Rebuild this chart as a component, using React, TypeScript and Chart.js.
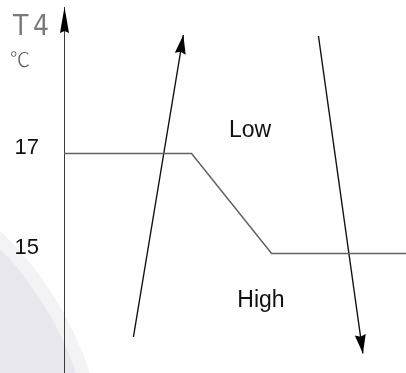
import React, { useEffect, useRef } from 'react';
import { Chart, registerables } from 'chart.js';

Chart.register(...registerables);

// ---- data ----
const yTickValues = [15, 17];
const setpointX = [0, 37.3, 60.7, 100];
const setpointY = [17, 17, 15, 15];
const riseArrowX = [20.3, 34.9];
const riseArrowY = [13.33, 19.37];
const fallArrowX = [74.4, 87.4];
const fallArrowY = [19.35, 13.0];
const regionLabels = ['Low', 'High'];
const regionX = [54.4, 57.6];
const regionY = [17.33, 13.93];
const axisTitleMain = ['T', '4'];
const axisTitleUnit = '℃';

const toPoints = (xs: number[], ys: number[]) => xs.map((x, i) => ({ x, y: ys[i] }));

function arrowHead(ctx: CanvasRenderingContext2D, fx: number, fy: number, tx: number, ty: number, len: number, half: number) {
  const dx = tx - fx;
  const dy = ty - fy;
  const d = Math.hypot(dx, dy) || 1;
  const ux = dx / d;
  const uy = dy / d;
  const bx = tx - ux * len;
  const by = ty - uy * len;
  const px = -uy;
  const py = ux;
  ctx.beginPath();
  ctx.moveTo(tx, ty);
  ctx.lineTo(bx + px * half, by + py * half);
  ctx.lineTo(bx + ux * 2, by + uy * 2);
  ctx.lineTo(bx - px * half, by - py * half);
  ctx.closePath();
  ctx.fill();
}

const schematicPlugin = {
  id: 'schematic',
  beforeDraw(chart: any) {
    const { ctx, width, height } = chart;
    ctx.save();
    ctx.fillStyle = '#ffffff';
    ctx.fillRect(0, 0, width, height);
    // faint watermark disc in the lower-left corner
    ctx.beginPath();
    ctx.arc(-240, 481, 347, 0, Math.PI * 2);
    ctx.fillStyle = '#f3f3f5';
    ctx.fill();
    ctx.beginPath();
    ctx.arc(-240, 481, 334, 0, Math.PI * 2);
    ctx.fillStyle = '#e8e7ee';
    ctx.fill();
    ctx.restore();
  },
  afterDatasetsDraw(chart: any) {
    const { ctx, chartArea, scales } = chart;
    const xs = scales.x;
    const ys = scales.y;
    ctx.save();
    ctx.fillStyle = '#000';
    // y-axis arrow head
    const ax = Math.round(chartArea.left) + 0.5;
    arrowHead(ctx, ax, chartArea.top + 40, ax, chartArea.top, 26, 4.5);
    // data arrows
    const arrows = [
      [riseArrowX, riseArrowY],
      [fallArrowX, fallArrowY],
    ];
    arrows.forEach(([ax2, ay2]) => {
      const n = ax2.length;
      const fx = xs.getPixelForValue(ax2[n - 2]);
      const fy = ys.getPixelForValue(ay2[n - 2]);
      const tx = xs.getPixelForValue(ax2[n - 1]);
      const ty = ys.getPixelForValue(ay2[n - 1]);
      arrowHead(ctx, fx, fy, tx, ty, 19, 5.5);
    });
    // region labels
    ctx.fillStyle = '#111';
    ctx.font = '23px "Liberation Sans", Arial, sans-serif';
    ctx.textAlign = 'center';
    ctx.textBaseline = 'alphabetic';
    regionLabels.forEach((t, i) => {
      ctx.fillText(t, xs.getPixelForValue(regionX[i]), ys.getPixelForValue(regionY[i]));
    });
    // axis title
    ctx.fillStyle = '#7a7a7a';
    ctx.textAlign = 'left';
    ctx.font = '28px "Liberation Sans Narrow", "DejaVu Sans Condensed", sans-serif';
    ctx.fillText(axisTitleMain[0], chartArea.left - 51, 35);
    ctx.fillText(axisTitleMain[1], chartArea.left - 31, 35);
    ctx.fillStyle = '#555';
    ctx.font = '300 20px "Noto Sans CJK SC", "DejaVu Sans", sans-serif';
    ctx.fillText(axisTitleUnit, chartArea.left - 54, 67);
    ctx.restore();
  },
};

export default function App() {
  const ref = useRef<HTMLCanvasElement | null>(null);
  useEffect(() => {
    if (!ref.current) return;
    const chart = new Chart(ref.current, {
      type: 'line',
      data: {
        datasets: [
          {
            data: toPoints(setpointX, setpointY),
            borderColor: '#626262',
            borderWidth: 1.5,
            pointRadius: 0,
            tension: 0,
            clip: false as any,
          },
          {
            data: toPoints(riseArrowX, riseArrowY),
            borderColor: '#111',
            borderWidth: 1.4,
            pointRadius: 0,
            tension: 0,
            clip: false as any,
          },
          {
            data: toPoints(fallArrowX, fallArrowY),
            borderColor: '#111',
            borderWidth: 1.4,
            pointRadius: 0,
            tension: 0,
            clip: false as any,
          },
        ],
      },
      options: {
        animation: false,
        responsive: false,
        events: [],
        layout: { padding: { top: 7, left: 0, right: 0, bottom: 0 } },
        plugins: { legend: { display: false }, tooltip: { enabled: false } },
        scales: {
          x: {
            type: 'linear',
            min: 0,
            max: 100,
            display: false,
          },
          y: {
            type: 'linear',
            min: 12.61,
            max: 19.93,
            grid: { display: false, drawTicks: false },
            border: { display: true, color: '#3a3a3a', width: 1 },
            ticks: {
              color: '#111',
              padding: 25,
              labelOffset: -6,
              font: { size: 22, family: '"Liberation Sans", Arial, sans-serif' },
            },
            afterBuildTicks: (scale: any) => {
              scale.ticks = yTickValues.map((v) => ({ value: v }));
            },
            afterFit: (scale: any) => {
              scale.width = 64;
              scale.paddingTop = 0;
              scale.paddingBottom = 0;
            },
          },
        },
      },
      plugins: [schematicPlugin],
    });
    return () => chart.destroy();
  }, []);
  return (
    <div style={{ position: 'fixed', left: 0, top: 0, width: 406, height: 373 }}>
      <canvas ref={ref} width={406} height={373} style={{ display: 'block' }} />
    </div>
  );
}
